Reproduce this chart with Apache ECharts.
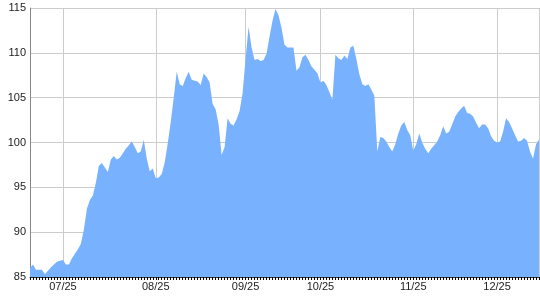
<!DOCTYPE html>
<html><head><meta charset="utf-8">
<script src="https://cdn.jsdelivr.net/npm/echarts@6/dist/echarts.min.js"></script>
<style>html,body{margin:0;padding:0;background:#fff}#c{width:540px;height:300px}</style>
</head><body><div id="c"></div>
<script>
var values = [
86.0,86.4,85.8,85.8,85.8,85.3,85.7,86.1,86.4,86.7,
86.8,86.9,86.4,86.4,87.1,87.6,88.1,88.7,90.3,92.6,
93.6,94.1,95.5,97.4,97.7,97.2,96.7,98.1,98.5,98.1,
98.3,98.8,99.3,99.7,100.1,99.5,98.8,99.0,100.3,98.2,
96.8,97.1,96.0,96.1,96.5,97.8,99.9,102.3,105.0,107.9,
106.5,106.3,107.2,107.9,107.0,106.9,106.8,106.4,107.7,107.3,
106.7,104.3,103.7,102.0,98.6,99.5,102.7,102.1,101.9,102.6,
103.5,105.5,109.3,112.9,110.6,109.2,109.3,109.1,109.2,109.9,
111.8,113.6,114.9,114.2,112.8,110.9,110.6,110.6,110.6,108.0,
108.4,109.5,109.8,109.2,108.5,108.1,107.7,106.7,106.9,106.4,
105.6,104.8,109.8,109.4,109.2,109.7,109.3,110.6,110.8,109.3,
107.6,106.5,106.3,106.5,105.9,105.2,99.0,100.6,100.5,100.1,
99.5,99.0,99.8,101.0,101.9,102.3,101.4,100.8,99.1,99.8,
101.0,100.0,99.3,98.8,99.3,99.7,100.1,100.8,101.8,101.0,
101.2,102.0,102.9,103.4,103.8,104.1,103.3,103.2,102.9,102.2,
101.6,102.0,102.0,101.6,100.7,100.2,100.0,100.1,101.2,102.7,
102.3,101.6,100.8,100.1,100.2,100.5,100.2,99.0,98.2,99.8,
100.3
];
var tickLabels = ['07/25','08/25','09/25','10/25','11/25','12/25'];
var tickIndex = [11,42,72,97,128,156];
var categories = values.map(function(v,i){ return String(i); });
var yMin = 85, yMax = 115, yStep = 5;

function labelAt(i){ var k = tickIndex.indexOf(i); return k >= 0 ? tickLabels[k] : ''; }

var chart = echarts.init(document.getElementById('c'), null, {renderer:'canvas'});
chart.setOption({
  animation:false,
  grid:{left:30,right:1,top:8,bottom:23,containLabel:false},
  xAxis:{
    type:'category', data:categories, boundaryGap:false,
    axisLine:{show:true,lineStyle:{color:'#333',width:1}},
    axisTick:{show:true,interval:0,length:3,lineStyle:{color:'#000'}},
    axisLabel:{interval:function(i){return tickIndex.indexOf(i)>=0;},formatter:function(v,i){return labelAt(Number(v));},
      color:'#222',fontFamily:'Liberation Sans, Arial',fontSize:11,margin:4},
    splitLine:{show:true,interval:function(i){return tickIndex.indexOf(i)>=0 || i===values.length-1;},lineStyle:{color:'#cccccc',width:1}}
  },
  yAxis:{
    type:'value', min:yMin, max:yMax, interval:yStep,
    axisLine:{show:true,lineStyle:{color:'#888',width:1}},
    axisTick:{show:false},
    axisLabel:{color:'#222',fontFamily:'Liberation Sans, Arial',fontSize:11,margin:4},
    splitLine:{show:true,lineStyle:{color:'#cccccc',width:1}}
  },
  series:[{
    type:'line', data:values, symbol:'none', smooth:false,
    lineStyle:{width:0,color:'#78b2ff'},
    areaStyle:{color:'#78b2ff',opacity:1,origin:'start'}
  }]
});
</script></body></html>
